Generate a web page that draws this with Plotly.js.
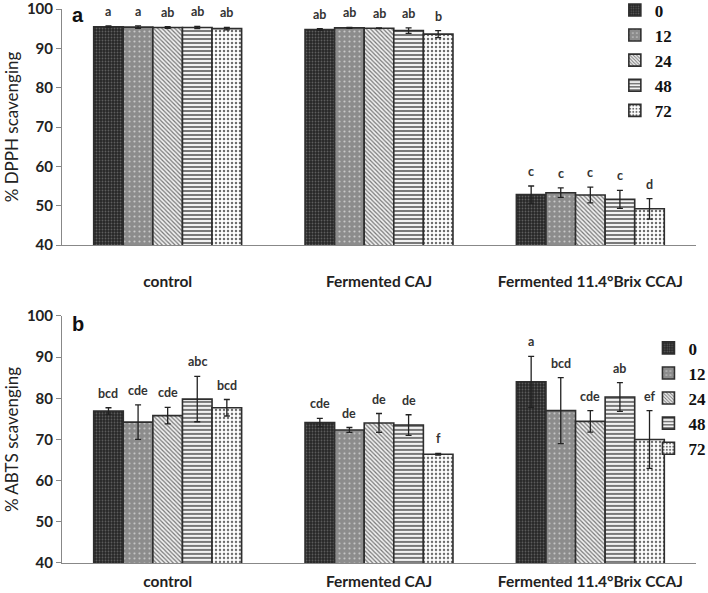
<!DOCTYPE html>
<html>
<head>
<meta charset="utf-8">
<script src="https://cdn.plot.ly/plotly-3.0.1.min.js"></script>
<style>html,body{margin:0;padding:0;background:#fff;}#chart{width:708px;height:593px;}</style>
</head>
<body>
<div id="chart"></div>
<script>
// ---- data ----
const categories = ['control', 'Fermented CAJ', 'Fermented 11.4°Brix CCAJ'];
const seriesNames = ['0', '12', '24', '48', '72'];

// Panel a: % DPPH scavenging
const dpph0  = [95.5, 94.8, 52.8];
const dpph12 = [95.4, 95.2, 53.3];
const dpph24 = [95.3, 95.1, 52.7];
const dpph48 = [95.3, 94.5, 51.6];
const dpph72 = [95.0, 93.6, 49.2];
const dpphErr0  = [0.2, 0.2, 2.2];
const dpphErr12 = [0.3, 0.1, 1.2];
const dpphErr24 = [0.2, 0.1, 2.0];
const dpphErr48 = [0.3, 0.7, 2.3];
const dpphErr72 = [0.3, 0.9, 2.6];
const dpphLab0  = ['a', 'ab', 'c'];
const dpphLab12 = ['a', 'ab', 'c'];
const dpphLab24 = ['ab', 'ab', 'c'];
const dpphLab48 = ['ab', 'ab', 'c'];
const dpphLab72 = ['ab', 'b', 'd'];

// Panel b: % ABTS scavenging
const abts0  = [76.9, 74.1, 84.0];
const abts12 = [74.2, 72.3, 77.0];
const abts24 = [75.8, 74.0, 74.4];
const abts48 = [79.8, 73.5, 80.3];
const abts72 = [77.7, 66.4, 70.0];
const abtsErr0  = [0.8, 1.0, 6.2];
const abtsErr12 = [4.2, 0.6, 8.0];
const abtsErr24 = [2.0, 2.3, 2.6];
const abtsErr48 = [5.5, 2.5, 3.5];
const abtsErr72 = [2.0, 0.2, 7.0];
const abtsLab0  = ['bcd', 'cde', 'a'];
const abtsLab12 = ['cde', 'de', 'bcd'];
const abtsLab24 = ['cde', 'de', 'cde'];
const abtsLab48 = ['abc', 'de', 'ab'];
const abtsLab72 = ['bcd', 'f', 'ef'];

const yTicks = [40, 50, 60, 70, 80, 90, 100];

// ---- styles ----
const patterns = [
  {shape: '.', bgcolor: '#262626', fgcolor: '#5e5e5e', size: 3, solidity: 0.3},
  {shape: '.', bgcolor: '#8c8c8c', fgcolor: '#c8c8c8', size: 5, solidity: 0.15},
  {shape: '\\', bgcolor: '#f0f0f0', fgcolor: '#777777', size: 3, solidity: 0.4},
  {shape: '-', bgcolor: '#f2f2f2', fgcolor: '#5a5a5a', size: 4, solidity: 0.4},
  {shape: '.', bgcolor: '#ffffff', fgcolor: '#6e6e6e', size: 4, solidity: 0.3}
];

const dpphVals = [dpph0, dpph12, dpph24, dpph48, dpph72];
const dpphErrs = [dpphErr0, dpphErr12, dpphErr24, dpphErr48, dpphErr72];
const dpphLabs = [dpphLab0, dpphLab12, dpphLab24, dpphLab48, dpphLab72];
const abtsVals = [abts0, abts12, abts24, abts48, abts72];
const abtsErrs = [abtsErr0, abtsErr12, abtsErr24, abtsErr48, abtsErr72];
const abtsLabs = [abtsLab0, abtsLab12, abtsLab24, abtsLab48, abtsLab72];

const traces = [];
function addPanel(vals, errs, labs, xa, ya, legendId) {
  vals.forEach((v, i) => {
    traces.push({
      type: 'bar',
      name: seriesNames[i],
      x: categories,
      y: v,
      xaxis: xa,
      yaxis: ya,
      legend: legendId,
      text: labs[i],
      textposition: 'none',
      marker: {
        color: patterns[i].bgcolor,
        line: {color: '#2e2e2e', width: 1.6},
        pattern: patterns[i]
      },
      error_y: {type: 'data', array: errs[i], visible: true, color: '#222', thickness: 1.3, width: 3}
    });
  });
}
addPanel(dpphVals, dpphErrs, dpphLabs, 'x', 'y', 'legend');
addPanel(abtsVals, abtsErrs, abtsLabs, 'x2', 'y2', 'legend2');

// letter annotations placed on top of the error bars
const annotations = [];
const nS = seriesNames.length;
const groupWidth = 0.7;
function addLetters(vals, errs, labs, xa, ya) {
  vals.forEach((v, i) => {
    v.forEach((val, j) => {
      const off = -groupWidth / 2 + groupWidth / nS * (i + 0.5);
      annotations.push({
        x: j + off, y: val + errs[i][j], xref: xa, yref: ya,
        text: labs[i][j], showarrow: false, yanchor: 'bottom', yshift: 5,
        font: {family: 'Lato, "Open Sans", sans-serif', size: 12.5, color: '#333', weight: 'bold'}
      });
    });
  });
}
addLetters(dpphVals, dpphErrs, dpphLabs, 'x', 'y');
addLetters(abtsVals, abtsErrs, abtsLabs, 'x2', 'y2');

annotations.push({text: 'a', xref: 'paper', yref: 'paper', x: 0.012, y: 1.012, xanchor: 'left', yanchor: 'top',
  showarrow: false, font: {family: 'Liberation Sans, Arial, sans-serif', size: 20, color: '#111', weight: 'bold'}});
annotations.push({text: 'b', xref: 'paper', yref: 'paper', x: 0.012, y: 0.454, xanchor: 'left', yanchor: 'top',
  showarrow: false, font: {family: 'Liberation Sans, Arial, sans-serif', size: 20, color: '#111', weight: 'bold'}});

const tickFont = {family: 'Lato, "Open Sans", sans-serif', size: 15, color: '#222', weight: 'bold'};
const catFont = {family: 'Lato, "Open Sans", sans-serif', size: 15.5, color: '#222', weight: 'bold'};
const titleFont = {family: 'Lato, "Open Sans", sans-serif', size: 17, color: '#222'};

function yAxis(domain, title) {
  return {
    domain: domain, range: [40, 100], tickvals: yTicks, ticks: 'outside', ticklen: 5,
    tickcolor: '#888', showline: true, linecolor: '#888', linewidth: 1, showgrid: false,
    zeroline: false, tickfont: tickFont, ticklabeloverflow: 'allow',
    title: {text: title, font: titleFont, standoff: 3},
    fixedrange: true
  };
}
function xAxis(anchor, standoff) {
  return {
    anchor: anchor, type: 'category', showline: true, linecolor: '#888', linewidth: 1.2,
    ticks: '', showgrid: false, tickfont: catFont, ticklabelstandoff: standoff, fixedrange: true
  };
}

const legendFont = {family: '"Liberation Serif", "Times New Roman", serif', size: 17, color: '#111', weight: 'bold'};
const layout = {
  width: 708, height: 593,
  margin: {l: 62, r: 12, t: 9, b: 30, autoexpand: false},
  paper_bgcolor: '#fff', plot_bgcolor: '#fff',
  barmode: 'group', bargap: 0.3, bargroupgap: 0,
  showlegend: true,
  legend: {x: 0.872, y: 1.03, xanchor: 'left', yanchor: 'top', font: legendFont,
    bgcolor: 'rgba(0,0,0,0)', tracegroupgap: 0, itemwidth: 30},
  legend2: {x: 0.925, y: 0.42, xanchor: 'left', yanchor: 'top', font: legendFont,
    bgcolor: 'rgba(0,0,0,0)', tracegroupgap: 0, itemwidth: 30},
  xaxis: xAxis('y', 22),
  yaxis: yAxis([0.574, 1], '% DPPH scavenging'),
  xaxis2: xAxis('y2', 4),
  yaxis2: yAxis([0, 0.446], '% ABTS scavenging'),
  annotations: annotations
};

Plotly.newPlot('chart', traces, layout, {displayModeBar: false, staticPlot: true});
</script>
</body>
</html>
